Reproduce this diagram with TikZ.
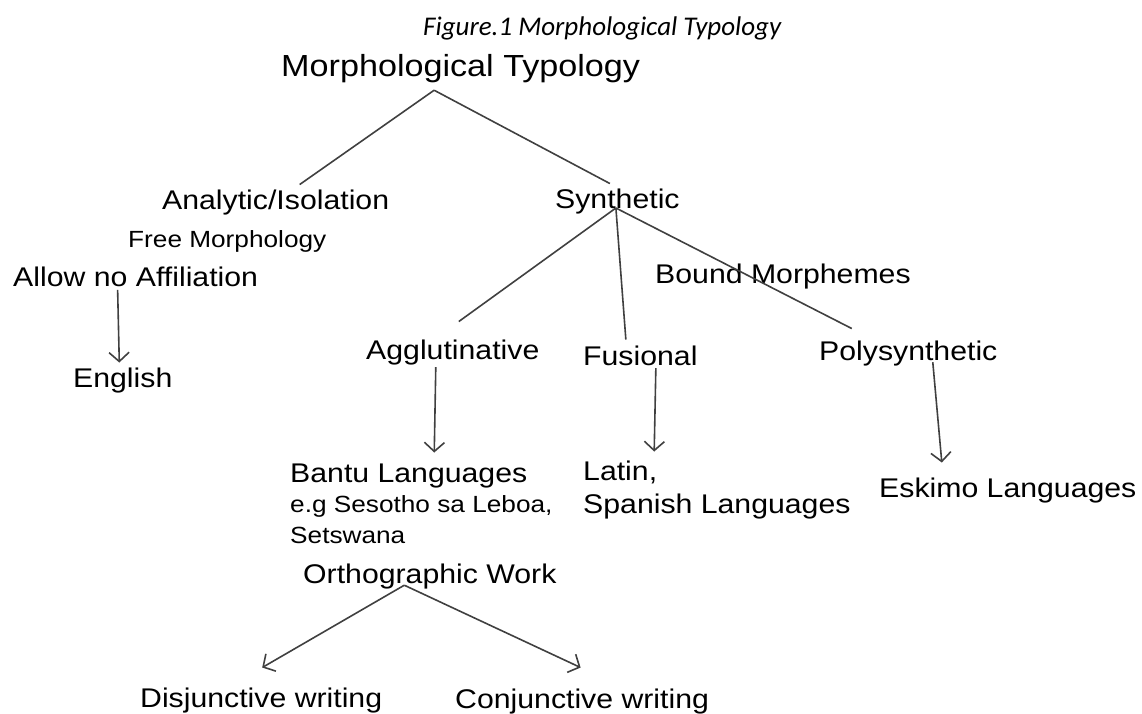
\documentclass[tikz,border=0pt]{standalone}
\usepackage{fontspec}
\setmainfont{Liberation Sans}[FakeStretch=1.12]
\newfontfamily\capfont{Carlito}
\usetikzlibrary{arrows.meta}
\definecolor{linegray}{RGB}{64,64,64}

\begin{document}
\begin{tikzpicture}[
    x=1pt, y=-1pt,
    term/.style={inner sep=0pt, anchor=base west, font=\fontsize{27}{30}\selectfont},
    note/.style={inner sep=0pt, anchor=base west, font=\fontsize{23.4}{27}\selectfont},
    branch/.style={draw=linegray, line width=1.6pt},
    pointer/.style={draw=linegray, line width=1.6pt, -{Straight Barb[length=9pt,width=20pt]}}
]
\useasboundingbox (0,0) rectangle (1142,713);

% ============================================================
% CAPTION AND ROOT
% ============================================================
\node[inner sep=0pt, anchor=base west, font=\capfont\itshape\fontsize{27}{30}\selectfont] (caption) at (423,35) {Figure.1 Morphological Typology};
\node[inner sep=0pt, anchor=base west, font=\fontsize{30.5}{34}\selectfont] (root) at (281,76) {Morphological Typology};

% ============================================================
% ANALYTIC BRANCH (left)
% ============================================================
\node[term] (analytic) at (162,209) {Analytic/Isolation};
\node[note] (free) at (128,247) {Free Morphology};
\node[term] (allow) at (13,286) {Allow no Affiliation};
\node[term] (english) at (73,387) {English};

% ============================================================
% SYNTHETIC BRANCH (right)
% ============================================================
\node[term] (synthetic) at (555,208) {Synthetic};
\node[term] (bound) at (655,283) {Bound Morphemes};
\node[term] (agglut) at (366,359) {Agglutinative};
\node[term] (fusional) at (583,365) {Fusional};
\node[term] (poly) at (819,360) {Polysynthetic};

% languages
\node[term] (bantu) at (290,482) {Bantu Languages};
\node[note] (sesotho) at (290,512) {e.g Sesotho sa Leboa,};
\node[note] (setswana) at (290,543) {Setswana};
\node[term] (latin) at (583,480) {Latin,};
\node[term] (spanish) at (583,513) {Spanish Languages};
\node[term] (eskimo) at (879,497) {Eskimo Languages};

% ============================================================
% ORTHOGRAPHY
% ============================================================
\node[term] (ortho) at (303,583) {Orthographic Work};
\node[term] (disj) at (140,707) {Disjunctive writing};
\node[term] (conj) at (455,708) {Conjunctive writing};

% ============================================================
% CONNECTIONS
% ============================================================
\draw[branch] ([xshift=-26.5pt,yshift=-7.7pt]root.south) -- ([xshift=24pt,yshift=4.7pt]analytic.north);
\draw[branch] ([xshift=-26.5pt,yshift=-7.7pt]root.south) -- ([xshift=-7.5pt,yshift=4.7pt]synthetic.north);

\draw[branch] ([xshift=-1.5pt]synthetic.base) -- ([xshift=6pt,yshift=17.7pt]agglut.north);
\draw[branch] ([xshift=-1.5pt]synthetic.base) -- ([xshift=-14.5pt,yshift=5.7pt]fusional.north);
\draw[branch] ([xshift=-1.5pt]synthetic.base) -- ([xshift=-56.5pt,yshift=11.7pt]poly.north);

\draw[pointer] ([xshift=-18pt,yshift=-3.4pt]allow.south) -- ([xshift=-3.5pt,yshift=4.7pt]english.north);
\draw[pointer] ([xshift=-17pt,yshift=-2.4pt]agglut.south) -- ([xshift=25.5pt,yshift=10.7pt]bantu.north);
\draw[pointer] ([xshift=15.5pt,yshift=-2.6pt]fusional.south) -- ([xshift=34pt,yshift=8.7pt]latin.north);
\draw[pointer] ([xshift=24.5pt,yshift=3.6pt]poly.south) -- ([xshift=-66pt,yshift=14.7pt]eskimo.north);

\draw[pointer] ([xshift=-25.5pt,yshift=3.6pt]ortho.south) -- ([xshift=1pt,yshift=19.7pt]disj.north);
\draw[pointer] ([xshift=-25.5pt,yshift=3.6pt]ortho.south) -- ([xshift=-1.5pt,yshift=20.7pt]conj.north);

\end{tikzpicture}
\end{document}
